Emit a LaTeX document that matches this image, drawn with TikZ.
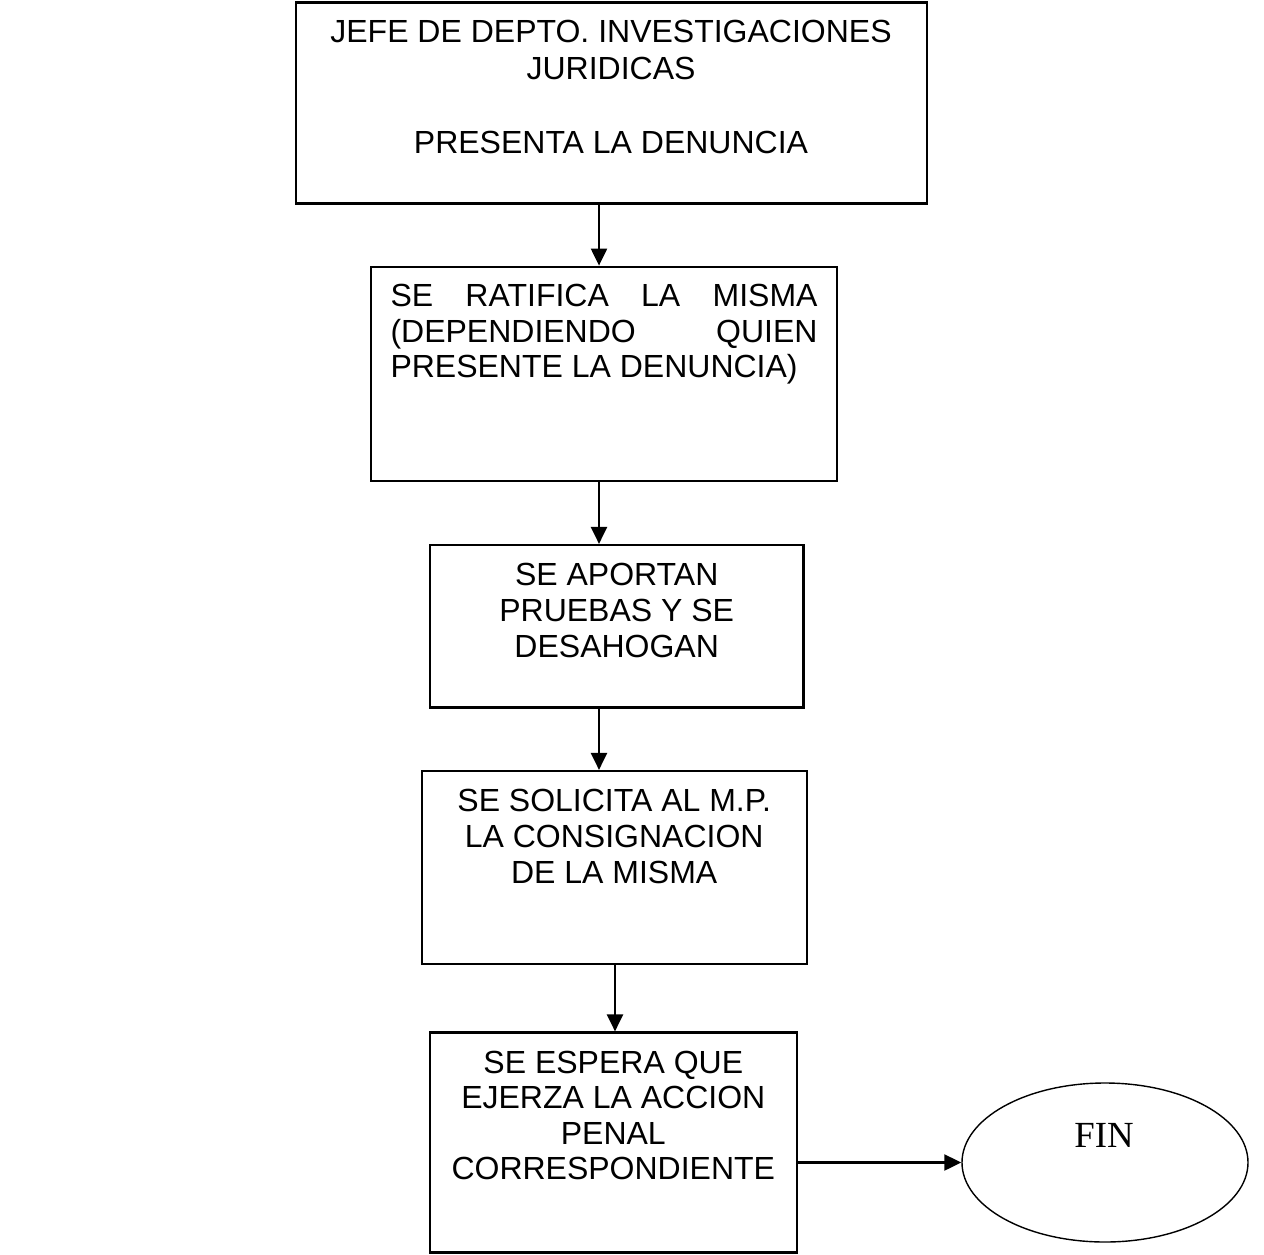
\documentclass[tikz,border=0pt]{standalone}
\usepackage{fontspec}
\setmainfont{Liberation Sans}
\newfontfamily\finfont{Liberation Serif}
\usetikzlibrary{arrows.meta,shapes.geometric}

\begin{document}
\begin{tikzpicture}[x=0.5pt,y=-0.5pt,
  box/.style={draw,line width=1.1pt,inner sep=0pt},
  txt/.style={inner sep=0pt,anchor=north,align=center,font=\fontsize{16}{18}\selectfont},
  arrow/.style={-{Triangle[length=8.5pt,width=8pt]},line width=1.1pt}]
  \useasboundingbox (0,0) rectangle (1264,1254);

  % Draw the boxes of the chain
  \node[box,minimum width=315.5pt,minimum height=100.5pt] (b1) at (611.5,103) {};
  \node[box,minimum width=233.3pt,minimum height=107pt] (b2) at (604,373.7) {};
  \node[box,minimum width=186.7pt,minimum height=81.2pt] (b3) at (616.7,626.2) {};
  \node[box,minimum width=192.5pt,minimum height=96.5pt] (b4) at (614.2,867.5) {};
  \node[box,minimum width=183.3pt,minimum height=110pt] (b5) at (613.3,1142.5) {};

  % Draw the end ellipse
  \node[draw,ellipse,line width=0.7pt,inner sep=0pt,minimum width=143pt,minimum height=79.5pt] (fin) at (1105,1162.5) {};

  % Add the texts at the top of the boxes
  \node[txt,font=\fontsize{16}{18.5}\selectfont] (t1) at (611,20) {JEFE DE DEPTO. INVESTIGACIONES\\JURIDICAS\\[18.5pt]PRESENTA LA DENUNCIA};
  \node[txt,align=justify,text width=213.5pt,font=\fontsize{16}{17.75}\selectfont] (t2) at (604,284) {\noindent SE RATIFICA LA MISMA\linebreak (DEPENDIENDO QUIEN\linebreak PRESENTE LA DENUNCIA)};
  \node[txt] (t3) at (616.7,563) {SE APORTAN\\PRUEBAS Y SE\\DESAHOGAN};
  \node[txt] (t4) at (614.2,789) {SE SOLICITA AL M.P.\\LA CONSIGNACION\\DE LA MISMA};
  \node[txt,font=\fontsize{16}{17.75}\selectfont] (t5) at (613.3,1050.5) {SE ESPERA QUE\\EJERZA LA ACCION\\PENAL\\CORRESPONDIENTE};
  \node[inner sep=0pt,anchor=base,font=\finfont\fontsize{18.4}{20}\selectfont] (tfin) at (1104,1147.7) {FIN};

  % Draw the arrows between the boxes
  \coordinate (c1) at (599,0);
  \coordinate (c2) at (615,0);
  \draw[arrow] (b1.south -| c1) -- (b2.north -| c1);
  \draw[arrow] (b2.south -| c1) -- (b3.north -| c1);
  \draw[arrow] (b3.south -| c1) -- (b4.north -| c1);
  \draw[arrow] (b4.south -| c2) -- (b5.north -| c2);
  \draw[arrow] (b5.east |- fin.west) -- (fin.west);
\end{tikzpicture}
\end{document}
